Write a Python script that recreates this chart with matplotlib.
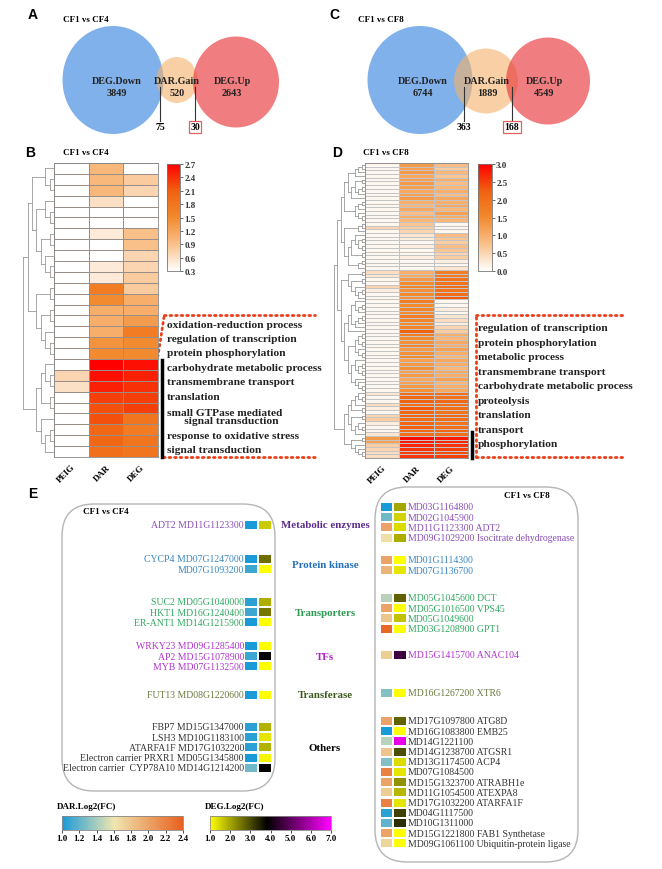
import numpy as np
import matplotlib
matplotlib.use('Agg')
import matplotlib.pyplot as plt
import matplotlib.colorbar as mcolorbar
from matplotlib.colors import LinearSegmentedColormap, Normalize
from matplotlib.patches import Ellipse, Rectangle, FancyBboxPatch

SERIF = 'Liberation Serif'
SANS = 'Liberation Sans'

# ---------------- data ----------------
venn_sets = ['DEG.Down', 'DAR.Gain', 'DEG.Up']
cf4_counts = [3849, 520, 2643]
cf4_shared = [75, 30]
cf8_counts = [6744, 1889, 4549]
cf8_shared = [363, 168]

heat_cols = ['PEIG', 'DAR', 'DEG']

# panel B, CF1 vs CF4 (27 GO terms)
peig_b = [0.3, 0.3, 0.3, 0.3, 0.3, 0.3, 0.3, 0.3, 0.3, 0.3, 0.3, 0.3, 0.3, 0.3,
          0.3, 0.3, 0.3, 0.3, 0.3, 0.7, 0.6, 0.3, 0.3, 0.3, 0.3, 0.3, 0.3]
dar_b = [1.0, 1.0, 1.0, 0.6, 0.3, 0.3, 0.5, 0.3, 0.3, 0.5, 0.5, 1.7, 1.5, 1.1,
         1.1, 1.1, 1.4, 1.5, 2.7, 2.6, 2.5, 2.3, 2.2, 2.2, 2.0, 2.0, 1.9]
deg_b = [0.3, 0.8, 0.7, 0.3, 0.3, 0.3, 0.9, 0.9, 0.7, 0.7, 0.8, 0.8, 1.1, 1.1,
         1.3, 1.7, 1.5, 1.5, 2.6, 2.5, 2.4, 2.3, 2.3, 1.8, 1.7, 1.8, 1.8]
terms_b = ['oxidation-reduction process', 'regulation of transcription',
           'protein phosphorylation', 'carbohydrate metabolic process',
           'transmembrane transport', 'translation',
           'small GTPase mediated\n      signal transduction',
           'response to oxidative stress', 'signal transduction']

# panel D, CF1 vs CF8 (80 GO terms)
peig_d = [0.1] * 10 + [0.1] * 6 + [0.1, 0.5, 0.1] + [0.1] * 7 + [0.1] * 3 + \
         [0.4, 0.3, 0.1, 0.1, 0.5, 0.2, 0.1, 0.1] + [0.1] * 8 + [0.1] + [0.1] * 16 + \
         [0.3, 0.1, 0.1, 0.4, 0.2, 0.1, 0.5, 0.6, 0.2, 0.1, 0.1, 0.3] + \
         [1.3, 1.2, 0.6, 0.5, 0.4, 0.4]
dar_d = [1.3, 1.2, 1.3, 1.1, 1.2, 1.3, 1.2, 1.1, 1.2, 1.3,
         1.0, 0.9, 1.1, 0.8, 1.0, 0.9,
         0.7, 0.6, 0.5,
         0.3, 0.2, 0.1, 0.2, 0.1, 0.1, 0.2,
         0.1, 0.1, 0.1,
         1.0, 1.1, 1.3, 1.5, 1.6, 1.4, 1.5, 1.4,
         1.7, 1.5, 1.6, 1.5, 1.7, 1.6, 1.5, 1.6,
         2.2,
         1.7, 1.5, 1.4, 1.6, 1.3, 1.4, 1.5, 1.2, 1.3, 1.4, 1.2, 1.3, 1.1, 1.2, 1.3, 1.4,
         2.0, 2.1, 2.2, 2.0, 2.3, 2.1, 2.2, 2.0, 2.1, 2.2, 2.1, 2.0,
         2.9, 2.8, 2.7, 2.6, 2.5, 2.6]
deg_d = [0.8, 0.6, 0.9, 0.7, 1.0, 0.8, 0.9, 1.0, 0.8, 1.1,
         1.0, 1.1, 0.9, 1.2, 1.0, 0.9,
         0.1, 0.1, 0.1,
         0.8, 0.7, 0.6, 0.8, 0.7, 0.5, 0.6,
         0.2, 0.1, 0.3,
         1.7, 1.8, 1.9, 1.9, 2.0, 1.9, 2.0, 2.3,
         0.1, 0.1, 0.2, 0.1, 0.3, 0.4, 0.2, 0.5,
         0.6,
         1.0, 0.9, 1.1, 1.0, 1.2, 1.0, 0.9, 1.1, 1.0, 0.9, 1.1, 1.0, 1.2, 0.9, 1.0, 1.1,
         2.0, 1.9, 2.1, 2.0, 2.0, 1.9, 2.1, 2.0, 1.9, 2.0, 2.1, 2.0,
         2.8, 2.7, 2.6, 2.5, 2.4, 2.5]
terms_d = ['regulation of transcription', 'protein phosphorylation',
           'metabolic process', 'transmembrane transport',
           'carbohydrate metabolic process', 'proteolysis', 'translation',
           'transport', 'phosphorylation']

# panel E
categories = ['Metabolic enzymes', 'Protein kinase', 'Transporters', 'TFs',
              'Transferase', 'Others']
cat_colors = ['#5b2c8c', '#2470b8', '#2a9a50', '#b020c8', '#3e5a1e', '#000000']
gene_colors = ['#8a4fb8', '#3a86c0', '#30a860', '#b035d0', '#6b7a40', '#333333']

cf4_genes = ['ADT2 MD11G1123300',
             'CYCP4 MD07G1247000', 'MD07G1093200',
             'SUC2 MD05G1040000', 'HKT1 MD16G1240400', 'ER-ANT1 MD14G1215900',
             'WRKY23 MD09G1285400', 'AP2 MD15G1078900', 'MYB MD07G1132500',
             'FUT13 MD08G1220600',
             'FBP7 MD15G1347000', 'LSH3 MD10G1183100', 'ATARFA1F MD17G1032200',
             'Electron carrier PRXR1 MD05G1345800',
             'Electron carrier  CYP78A10 MD14G1214200']
cf4_group = [0, 1, 1, 2, 2, 2, 3, 3, 3, 4, 5, 5, 5, 5, 5]
cf4_dar = [1.0, 1.0, 1.1, 1.05, 1.1, 1.0, 1.0, 1.1, 1.0, 1.0, 1.05, 1.05, 1.05, 1.0, 1.25]
cf4_deg = [1.6, 2.6, 1.0, 1.9, 2.5, 1.0, 1.0, 3.8, 1.0, 1.0, 1.85, 1.3, 1.85, 1.1, 3.8]

cf8_genes = ['MD03G1164800', 'MD02G1045900', 'MD11G1123300 ADT2',
             'MD09G1029200 Isocitrate dehydrogenase',
             'MD01G1114300', 'MD07G1136700',
             'MD05G1045600 DCT', 'MD05G1016500 VPS45', 'MD05G1049600',
             'MD03G1208900 GPT1',
             'MD15G1415700 ANAC104',
             'MD16G1267200 XTR6',
             'MD17G1097800 ATG8D', 'MD16G1083800 EMB25', 'MD14G1221100',
             'MD14G1238700 ATGSR1', 'MD13G1174500 ACP4', 'MD07G1084500',
             'MD15G1323700 ATRABH1e', 'MD11G1054500 ATEXPA8',
             'MD17G1032200 ATARFA1F', 'MD04G1117500', 'MD10G1311000',
             'MD15G1221800 FAB1 Synthetase',
             'MD09G1061100 Ubiquitin-protein ligase']
cf8_group = [0, 0, 0, 0, 1, 1, 2, 2, 2, 2, 3, 4] + [5] * 13
cf8_dar = [1.0, 1.25, 2.0, 1.65, 2.0, 1.9, 1.45, 2.0, 1.8, 2.35, 1.75, 1.3,
           2.0, 1.0, 1.45, 1.8, 1.3, 2.2, 2.0, 1.75, 2.2, 1.05, 1.2, 2.0, 1.7]
cf8_deg = [2.0, 1.5, 1.4, 1.9, 1.0, 1.3, 2.75, 1.0, 1.7, 1.0, 4.6, 1.0,
           2.75, 1.0, 6.7, 2.95, 1.4, 1.3, 2.2, 1.8, 1.3, 3.1, 3.3, 1.0, 1.0]

# ---------------- figure ----------------
W, H = 662, 870
fig = plt.figure(figsize=(W / 100, H / 100), dpi=100)
bg = fig.add_axes([0, 0, 1, 1])
bg.set_xlim(0, W)
bg.set_ylim(H, 0)
bg.axis('off')


def px_axes(x0, y0, x1, y1):
    return fig.add_axes([x0 / W, 1 - y1 / H, (x1 - x0) / W, (y1 - y0) / H])


def txt(x, y, s, size=7, **kw):
    kw.setdefault('family', SERIF)
    kw.setdefault('fontweight', 'bold')
    bg.text(x, y, s, fontsize=size, **kw)


# panel letters
for letter, (x, y) in zip('ABCDE', [(33, 15), (30, 153), (334, 15), (337, 153), (33, 494)]):
    txt(x, y, letter, size=10, family=SANS, ha='center', va='center')

# ---------------- Venn diagrams ----------------
venn_colors = ['#4a90e2', '#f6b26b', '#e8383c']
venn_alpha = [0.7, 0.6, 0.65]


def venn(title, title_xy, shapes, label_x, counts, shared, shared_x):
    txt(title_xy[0], title_xy[1], title, size=6.5, ha='left', va='center')
    for (cx, cy, w, h), c, a in zip(shapes, venn_colors, venn_alpha):
        bg.add_patch(Ellipse((cx, cy), w, h, facecolor=c, alpha=a, edgecolor='none'))
    for name, n, lx in zip(venn_sets, counts, label_x):
        txt(lx, 82, name, size=7.3, ha='center', va='center', color='#222222')
        txt(lx, 93, str(n), size=7.3, ha='center', va='center', color='#222222')
    for i, (n, sx) in enumerate(zip(shared, shared_x)):
        bg.plot([sx, sx], [88, 122], color='#333333', lw=0.8)
        bb = dict(boxstyle='square,pad=0.15', fc='white', ec='#e06060', lw=0.9) if i == 1 else None
        txt(sx, 128, str(n), size=7, ha='center', va='center', bbox=bb)


venn('CF1 vs CF4', (63, 20),
     [(113, 81, 101, 108), (177, 81, 41, 46), (236, 83, 86, 91)],
     [117, 177, 232], cf4_counts, cf4_shared, [160, 195])
venn('CF1 vs CF8', (358, 20),
     [(420, 81, 105, 108), (486, 82, 64, 65), (548, 82, 84, 87)],
     [423, 487, 544], cf8_counts, cf8_shared, [464, 512])

# ---------------- heatmaps ----------------
heat_cmap = LinearSegmentedColormap.from_list(
    'go', ['#ffffff', '#f9c08a', '#f28a2e', '#f06010', '#ff0000'])


def adjacent_tree(mat, lam=0.05):
    nodes = [{'y': i + 0.5, 'h': 0, 'mean': mat[i].astype(float), 'n': 1}
             for i in range(len(mat))]
    segs = []
    while len(nodes) > 1:
        costs = [np.linalg.norm(nodes[i]['mean'] - nodes[i + 1]['mean'])
                 + lam * (nodes[i]['n'] + nodes[i + 1]['n'])
                 for i in range(len(nodes) - 1)]
        k = int(np.argmin(costs))
        a, b = nodes[k], nodes[k + 1]
        h = max(a['h'], b['h']) + 1
        segs += [([a['h'], h], [a['y'], a['y']]), ([b['h'], h], [b['y'], b['y']]),
                 ([h, h], [a['y'], b['y']])]
        n = a['n'] + b['n']
        nodes[k:k + 2] = [{'y': (a['y'] + b['y']) / 2, 'h': h,
                           'mean': (a['mean'] * a['n'] + b['mean'] * b['n']) / n, 'n': n}]
    return segs, nodes[0]['h']


def heat_panel(box, dbox, cbox, cols, vmin, vmax, ticks, edge, elw):
    mat = np.column_stack(cols)
    ax = px_axes(*box)
    mesh = ax.pcolormesh(mat, cmap=heat_cmap, vmin=vmin, vmax=vmax,
                         edgecolors=edge, linewidth=elw)
    ax.set_ylim(len(mat), 0)
    ax.set_xlim(0, 3)
    ax.set_yticks([])
    ax.set_xticks([0.5, 1.5, 2.5])
    ax.set_xticklabels(heat_cols, rotation=45, ha='right', rotation_mode='anchor',
                       family=SERIF, fontweight='bold', fontsize=6.5)
    ax.tick_params(axis='x', length=0, pad=4)
    for s in ax.spines.values():
        s.set_edgecolor('#888888')
        s.set_linewidth(0.6)
    dax = px_axes(*dbox)
    segs, hmax = adjacent_tree(mat)
    for xs, ys in segs:
        dax.plot(xs, ys, color='#9a9a9a', lw=0.6)
    dax.set_xlim(hmax + 0.3, 0)
    dax.set_ylim(len(mat), 0)
    dax.axis('off')
    cax = px_axes(*cbox)
    cb = fig.colorbar(mesh, cax=cax, ticks=ticks)
    cb.outline.set_edgecolor('#777777')
    cb.outline.set_linewidth(0.6)
    cax.tick_params(length=2, width=0.5, pad=1, colors='#333333')
    cax.set_yticklabels(['%.1f' % t for t in ticks], family=SERIF,
                        fontweight='bold', fontsize=6.5)


heat_panel((54, 164, 158, 458), (22, 164, 54, 458), (167, 165, 180, 272),
           [peig_b, dar_b, deg_b], 0.3, 2.7, np.round(np.arange(0.3, 2.71, 0.3), 1),
           '#9a8f88', 0.5)
heat_panel((365, 164, 468, 459), (333, 164, 365, 459), (478, 165, 492, 272),
           [peig_d, dar_d, deg_d], 0.0, 3.0, np.round(np.arange(0, 3.01, 0.5), 1),
           '#c4c4c4', 0.4)

txt(63, 153, 'CF1 vs CF4', size=6.5, ha='left', va='center')
txt(363, 153, 'CF1 vs CF8', size=6.5, ha='left', va='center')

# GO term labels and brackets
red_dots = dict(color='#e8401c', lw=2, linestyle=(0, (0.6, 1.4)), dash_capstyle='round')
b_y = [326, 340, 354, 369, 383, 398, 417.5, 437, 451]
for term, y in zip(terms_b, b_y):
    txt(167, y, term, size=8.2, ha='left', va='center', color='#222222', linespacing=0.85)
bg.plot([164, 315], [316, 316], **red_dots)
bg.plot([164, 158], [318, 357], **red_dots)
bg.plot([163, 315], [458, 458], **red_dots)
bg.plot([162, 162], [361, 458], color='black', lw=2.5)

d_y = [329, 343.5, 358, 372.5, 387, 401.5, 416, 430.5, 445]
for term, y in zip(terms_d, d_y):
    txt(478, y, term, size=8.2, ha='left', va='center', color='#222222')
bg.plot([476, 625], [316, 316], **red_dots)
bg.plot([476, 476], [318, 458], **red_dots)
bg.plot([476, 625], [458, 458], **red_dots)
bg.plot([472, 472], [433, 459], color='black', lw=2.5)

# ---------------- panel E ----------------
dar_cmap = LinearSegmentedColormap.from_list(
    'dar', [(0, '#1a9ad8'), (0.43, '#efe6b0'), (1, '#e8601e')])
deg_cmap = LinearSegmentedColormap.from_list(
    'deg', [(0, '#ffff00'), (0.47, '#000000'), (1, '#ff00ff')])
dar_norm = Normalize(1.0, 2.4)
deg_norm = Normalize(1.0, 7.0)

bg.add_patch(FancyBboxPatch((62, 505), 213, 287, boxstyle='round,pad=0,rounding_size=32',
                            fc='none', ec='#b5b5b5', lw=1))
bg.add_patch(FancyBboxPatch((375, 488), 203, 375, boxstyle='round,pad=0,rounding_size=32',
                            fc='none', ec='#b5b5b5', lw=1))
txt(83, 512, 'CF1 vs CF4', size=6.5, ha='left', va='center')
txt(527, 496, 'CF1 vs CF8', size=6.5, ha='center', va='center')

STEP = 10.2


def row_positions(groups, starts):
    ys, prev, k = [], None, 0
    for g in groups:
        k = k + 1 if g == prev else 0
        ys.append(starts[g] + k * STEP)
        prev = g
    return ys


left_y = row_positions(cf4_group, [526, 560, 603, 647, 696, 728])
right_y = row_positions(cf8_group, [508, 561, 599, 656, 694, 722])

for name, g, d1, d2, y in zip(cf4_genes, cf4_group, cf4_dar, cf4_deg, left_y):
    txt(244, y, name, size=7.0, ha='right', va='center', fontweight='normal',
        color=gene_colors[g])
    bg.add_patch(Rectangle((245, y - 4), 12, 8, fc=dar_cmap(dar_norm(d1)), ec='none'))
    bg.add_patch(Rectangle((259, y - 4), 12, 8, fc=deg_cmap(deg_norm(d2)), ec='none'))

for name, g, d1, d2, y in zip(cf8_genes, cf8_group, cf8_dar, cf8_deg, right_y):
    txt(408, y, name, size=7.0, ha='left', va='center', fontweight='normal',
        color=gene_colors[g])
    bg.add_patch(Rectangle((381, y - 4), 11, 8, fc=dar_cmap(dar_norm(d1)), ec='none'))
    bg.add_patch(Rectangle((394, y - 4), 12, 8, fc=deg_cmap(deg_norm(d2)), ec='none'))

for i, (cat, col) in enumerate(zip(categories, cat_colors)):
    ys = [y for y, g in zip(left_y, cf4_group) if g == i]
    txt(325, np.mean(ys), cat, size=7.8, ha='center', va='center', color=col)

# E colour bars
txt(57, 807, 'DAR.Log2(FC)', size=6.5, ha='left', va='center')
txt(205, 807, 'DEG.Log2(FC)', size=6.5, ha='left', va='center')
for box, cmap, norm, ticks in [((62, 817, 183, 831), dar_cmap, dar_norm,
                                 np.round(np.arange(1.0, 2.41, 0.2), 1)),
                                ((210, 817, 331, 831), deg_cmap, deg_norm,
                                 np.arange(1.0, 7.01, 1.0))]:
    cax = px_axes(*box)
    cb = mcolorbar.ColorbarBase(cax, cmap=cmap, norm=norm, orientation='horizontal',
                                ticks=ticks)
    cb.outline.set_edgecolor('#888888')
    cb.outline.set_linewidth(0.6)
    cax.tick_params(length=2, width=0.5, pad=1)
    cax.set_xticklabels(['%.1f' % t for t in ticks], family=SERIF,
                        fontweight='bold', fontsize=6.5)

fig.savefig('out.png', dpi=100, facecolor='white')
